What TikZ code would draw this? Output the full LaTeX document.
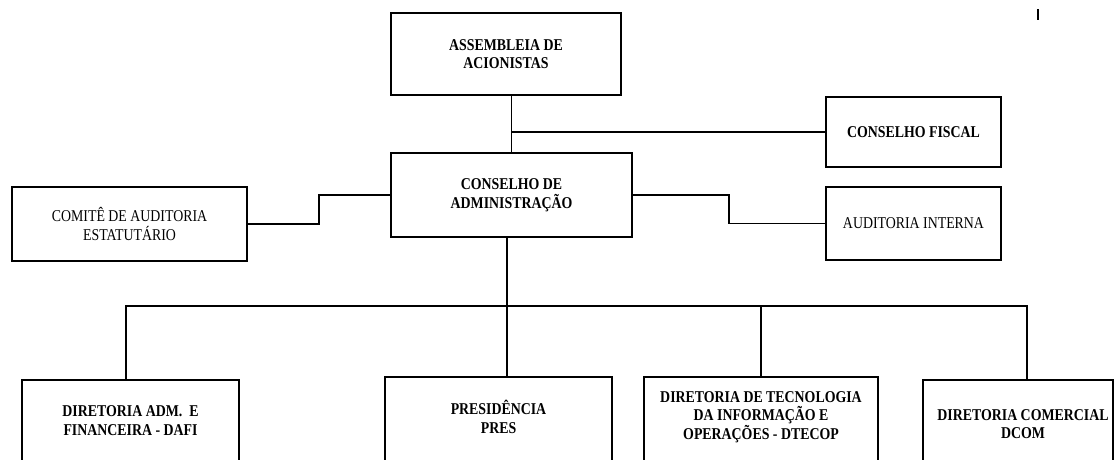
\documentclass[tikz,border=0pt]{standalone}
\usepackage{fontspec}
\setmainfont[FakeStretch=0.84]{Liberation Serif}
\usetikzlibrary{calc}
\begin{document}
\begin{tikzpicture}[x=1pt,y=-1pt,
  box/.style={draw, line width=1.8pt, inner sep=0pt, align=center,
    font=\fontsize{16.5}{18.5}\selectfont},
  bbox/.style={box, font=\fontsize{16.5}{18.5}\selectfont\bfseries},
  lbl/.style={inner sep=0pt, align=center, font=\fontsize{16.5}{18.5}\selectfont\bfseries},
  link/.style={line width=1.8pt}]
\useasboundingbox (0,0) rectangle (1114,459);
\clip (0,0) rectangle (1114,459);
% top boxes
\node[bbox, minimum width=230, minimum height=82] (asm) at (506,54) {ASSEMBLEIA DE\\ACIONISTAS};
\node[bbox, minimum width=175, minimum height=70] (cf) at (913.5,132) {CONSELHO FISCAL};
\node[bbox, minimum width=241, minimum height=84] (ca) at (511.5,195) {CONSELHO DE\\ADMINISTRAÇÃO};
\node[box, minimum width=235, minimum height=74] (cae) at (129.5,224) {COMITÊ DE AUDITORIA\\ESTATUTÁRIO};
\node[box, minimum width=175, minimum height=73] (ai) at (913.5,223.5) {AUDITORIA INTERNA};
% bottom boxes (cut by the page edge)
\node[box, minimum width=217, minimum height=101, anchor=north] (dafi) at (130.5,379) {};
\node[box, minimum width=227, minimum height=104, anchor=north] (pres) at (498.5,376) {};
\node[box, minimum width=234, minimum height=104, anchor=north] (dtecop) at (761,376) {};
\node[box, minimum width=190, minimum height=101, anchor=north] (dcom) at (1018,379) {};
\node[lbl] (tdafi) at (130.5,420.5) {DIRETORIA ADM.\ \ E\\FINANCEIRA - DAFI};
\node[lbl] (tpres) at (498.5,417) {PRESIDÊNCIA\\PRES};
\node[lbl] (tdtecop) at (761,417) {DIRETORIA DE TECNOLOGIA\\DA INFORMAÇÃO E\\OPERAÇÕES - DTECOP};
\node[lbl] (tdcom) at (1023,424) {DIRETORIA COMERCIAL\\DCOM};
% connectors
\coordinate (bus) at (507,306);
\draw[link] (ca.north) -- (ca.north |- asm.south);
\draw[link] (ca.north |- cf.west) -- (cf.west);
\draw[link] (cae.east) -| ($(cae.east)!.5!(ca.west)$) |- (ca.west);
\draw[link] (ca.east) -| ($(ca.east)!.5!(ai.west)$) |- (ai.west);
\draw[link] (ca.south -| bus) -- (pres.north -| bus);
\draw[link] ([xshift=-4.5]dafi.north) |- ([xshift=9]dcom.north |- bus) -- ([xshift=9]dcom.north);
\draw[link] (dtecop.north) -- (dtecop.north |- bus);
% small mark at top right
\coordinate (m1) at (1038,9);
\coordinate (m2) at (1038,20);
\draw[line width=2pt] (m1) -- (m2);
\end{tikzpicture}
\end{document}
